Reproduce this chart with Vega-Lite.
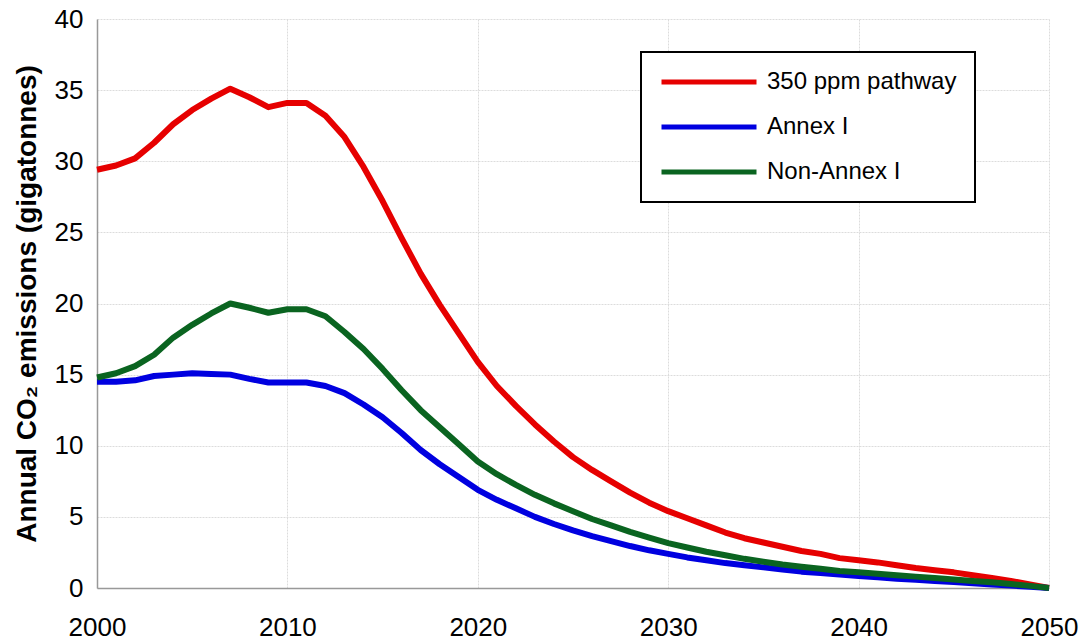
{
  "$schema": "https://vega.github.io/schema/vega-lite/v6.json",
  "autosize": "none",
  "width": 952,
  "height": 569,
  "padding": {"left": 97, "top": 19, "right": 32, "bottom": 55},
  "background": "white",
  "config": {
    "font": "Liberation Sans",
    "view": {"stroke": null},
    "legend": {"strokeWidth": 2}
  },
  "data": {
    "values": [
      {"year":2000,"series":"350 ppm pathway","value":29.4},
      {"year":2001,"series":"350 ppm pathway","value":29.7},
      {"year":2002,"series":"350 ppm pathway","value":30.2},
      {"year":2003,"series":"350 ppm pathway","value":31.3},
      {"year":2004,"series":"350 ppm pathway","value":32.6},
      {"year":2005,"series":"350 ppm pathway","value":33.6},
      {"year":2006,"series":"350 ppm pathway","value":34.4},
      {"year":2007,"series":"350 ppm pathway","value":35.1},
      {"year":2008,"series":"350 ppm pathway","value":34.5},
      {"year":2009,"series":"350 ppm pathway","value":33.8},
      {"year":2010,"series":"350 ppm pathway","value":34.1},
      {"year":2011,"series":"350 ppm pathway","value":34.1},
      {"year":2012,"series":"350 ppm pathway","value":33.2},
      {"year":2013,"series":"350 ppm pathway","value":31.7},
      {"year":2014,"series":"350 ppm pathway","value":29.6},
      {"year":2015,"series":"350 ppm pathway","value":27.2},
      {"year":2016,"series":"350 ppm pathway","value":24.6},
      {"year":2017,"series":"350 ppm pathway","value":22.1},
      {"year":2018,"series":"350 ppm pathway","value":19.9},
      {"year":2019,"series":"350 ppm pathway","value":17.9},
      {"year":2020,"series":"350 ppm pathway","value":15.9},
      {"year":2021,"series":"350 ppm pathway","value":14.2},
      {"year":2022,"series":"350 ppm pathway","value":12.8},
      {"year":2023,"series":"350 ppm pathway","value":11.5},
      {"year":2024,"series":"350 ppm pathway","value":10.3},
      {"year":2025,"series":"350 ppm pathway","value":9.2},
      {"year":2026,"series":"350 ppm pathway","value":8.3},
      {"year":2027,"series":"350 ppm pathway","value":7.5},
      {"year":2028,"series":"350 ppm pathway","value":6.7},
      {"year":2029,"series":"350 ppm pathway","value":6.0},
      {"year":2030,"series":"350 ppm pathway","value":5.4},
      {"year":2031,"series":"350 ppm pathway","value":4.9},
      {"year":2032,"series":"350 ppm pathway","value":4.4},
      {"year":2033,"series":"350 ppm pathway","value":3.9},
      {"year":2034,"series":"350 ppm pathway","value":3.5},
      {"year":2035,"series":"350 ppm pathway","value":3.2},
      {"year":2036,"series":"350 ppm pathway","value":2.9},
      {"year":2037,"series":"350 ppm pathway","value":2.6},
      {"year":2038,"series":"350 ppm pathway","value":2.4},
      {"year":2039,"series":"350 ppm pathway","value":2.1},
      {"year":2040,"series":"350 ppm pathway","value":1.95},
      {"year":2041,"series":"350 ppm pathway","value":1.8},
      {"year":2042,"series":"350 ppm pathway","value":1.6},
      {"year":2043,"series":"350 ppm pathway","value":1.4},
      {"year":2044,"series":"350 ppm pathway","value":1.25},
      {"year":2045,"series":"350 ppm pathway","value":1.1},
      {"year":2046,"series":"350 ppm pathway","value":0.9},
      {"year":2047,"series":"350 ppm pathway","value":0.7},
      {"year":2048,"series":"350 ppm pathway","value":0.5},
      {"year":2049,"series":"350 ppm pathway","value":0.25},
      {"year":2050,"series":"350 ppm pathway","value":0.0},
      {"year":2000,"series":"Annex I","value":14.5},
      {"year":2001,"series":"Annex I","value":14.5},
      {"year":2002,"series":"Annex I","value":14.6},
      {"year":2003,"series":"Annex I","value":14.9},
      {"year":2004,"series":"Annex I","value":15.0},
      {"year":2005,"series":"Annex I","value":15.1},
      {"year":2006,"series":"Annex I","value":15.05},
      {"year":2007,"series":"Annex I","value":15.0},
      {"year":2008,"series":"Annex I","value":14.7},
      {"year":2009,"series":"Annex I","value":14.45},
      {"year":2010,"series":"Annex I","value":14.45},
      {"year":2011,"series":"Annex I","value":14.45},
      {"year":2012,"series":"Annex I","value":14.2},
      {"year":2013,"series":"Annex I","value":13.7},
      {"year":2014,"series":"Annex I","value":12.9},
      {"year":2015,"series":"Annex I","value":12.0},
      {"year":2016,"series":"Annex I","value":10.9},
      {"year":2017,"series":"Annex I","value":9.7},
      {"year":2018,"series":"Annex I","value":8.7},
      {"year":2019,"series":"Annex I","value":7.8},
      {"year":2020,"series":"Annex I","value":6.9},
      {"year":2021,"series":"Annex I","value":6.2},
      {"year":2022,"series":"Annex I","value":5.6},
      {"year":2023,"series":"Annex I","value":5.0},
      {"year":2024,"series":"Annex I","value":4.5},
      {"year":2025,"series":"Annex I","value":4.05},
      {"year":2026,"series":"Annex I","value":3.65},
      {"year":2027,"series":"Annex I","value":3.3},
      {"year":2028,"series":"Annex I","value":2.95},
      {"year":2029,"series":"Annex I","value":2.65},
      {"year":2030,"series":"Annex I","value":2.4},
      {"year":2031,"series":"Annex I","value":2.15},
      {"year":2032,"series":"Annex I","value":1.95},
      {"year":2033,"series":"Annex I","value":1.75},
      {"year":2034,"series":"Annex I","value":1.6},
      {"year":2035,"series":"Annex I","value":1.45},
      {"year":2036,"series":"Annex I","value":1.3},
      {"year":2037,"series":"Annex I","value":1.15},
      {"year":2038,"series":"Annex I","value":1.05},
      {"year":2039,"series":"Annex I","value":0.95},
      {"year":2040,"series":"Annex I","value":0.85},
      {"year":2041,"series":"Annex I","value":0.75},
      {"year":2042,"series":"Annex I","value":0.65},
      {"year":2043,"series":"Annex I","value":0.58},
      {"year":2044,"series":"Annex I","value":0.5},
      {"year":2045,"series":"Annex I","value":0.42},
      {"year":2046,"series":"Annex I","value":0.34},
      {"year":2047,"series":"Annex I","value":0.25},
      {"year":2048,"series":"Annex I","value":0.17},
      {"year":2049,"series":"Annex I","value":0.08},
      {"year":2050,"series":"Annex I","value":0.0},
      {"year":2000,"series":"Non-Annex I","value":14.8},
      {"year":2001,"series":"Non-Annex I","value":15.1},
      {"year":2002,"series":"Non-Annex I","value":15.6},
      {"year":2003,"series":"Non-Annex I","value":16.4},
      {"year":2004,"series":"Non-Annex I","value":17.6},
      {"year":2005,"series":"Non-Annex I","value":18.5},
      {"year":2006,"series":"Non-Annex I","value":19.3},
      {"year":2007,"series":"Non-Annex I","value":20.0},
      {"year":2008,"series":"Non-Annex I","value":19.7},
      {"year":2009,"series":"Non-Annex I","value":19.35},
      {"year":2010,"series":"Non-Annex I","value":19.6},
      {"year":2011,"series":"Non-Annex I","value":19.6},
      {"year":2012,"series":"Non-Annex I","value":19.1},
      {"year":2013,"series":"Non-Annex I","value":18.0},
      {"year":2014,"series":"Non-Annex I","value":16.8},
      {"year":2015,"series":"Non-Annex I","value":15.4},
      {"year":2016,"series":"Non-Annex I","value":13.9},
      {"year":2017,"series":"Non-Annex I","value":12.5},
      {"year":2018,"series":"Non-Annex I","value":11.3},
      {"year":2019,"series":"Non-Annex I","value":10.1},
      {"year":2020,"series":"Non-Annex I","value":8.9},
      {"year":2021,"series":"Non-Annex I","value":8.0},
      {"year":2022,"series":"Non-Annex I","value":7.25},
      {"year":2023,"series":"Non-Annex I","value":6.55},
      {"year":2024,"series":"Non-Annex I","value":5.95},
      {"year":2025,"series":"Non-Annex I","value":5.4},
      {"year":2026,"series":"Non-Annex I","value":4.85},
      {"year":2027,"series":"Non-Annex I","value":4.4},
      {"year":2028,"series":"Non-Annex I","value":3.95},
      {"year":2029,"series":"Non-Annex I","value":3.55},
      {"year":2030,"series":"Non-Annex I","value":3.15},
      {"year":2031,"series":"Non-Annex I","value":2.85},
      {"year":2032,"series":"Non-Annex I","value":2.55},
      {"year":2033,"series":"Non-Annex I","value":2.3},
      {"year":2034,"series":"Non-Annex I","value":2.05},
      {"year":2035,"series":"Non-Annex I","value":1.85},
      {"year":2036,"series":"Non-Annex I","value":1.65},
      {"year":2037,"series":"Non-Annex I","value":1.5},
      {"year":2038,"series":"Non-Annex I","value":1.35},
      {"year":2039,"series":"Non-Annex I","value":1.2},
      {"year":2040,"series":"Non-Annex I","value":1.1},
      {"year":2041,"series":"Non-Annex I","value":1.0},
      {"year":2042,"series":"Non-Annex I","value":0.9},
      {"year":2043,"series":"Non-Annex I","value":0.8},
      {"year":2044,"series":"Non-Annex I","value":0.7},
      {"year":2045,"series":"Non-Annex I","value":0.6},
      {"year":2046,"series":"Non-Annex I","value":0.5},
      {"year":2047,"series":"Non-Annex I","value":0.4},
      {"year":2048,"series":"Non-Annex I","value":0.28},
      {"year":2049,"series":"Non-Annex I","value":0.15},
      {"year":2050,"series":"Non-Annex I","value":0.0}
    ]
  },
  "mark": {"type": "line", "strokeWidth": 6, "interpolate": "linear", "strokeCap": "butt", "strokeJoin": "round"},
  "encoding": {
    "x": {
      "field": "year", "type": "quantitative",
      "scale": {"domain": [2000, 2050], "nice": false, "zero": false},
      "axis": {
        "title": null, "values": [2000, 2010, 2020, 2030, 2040, 2050],
        "format": "d", "labelFontSize": 26, "labelColor": "black", "labelPadding": 26,
        "ticks": false, "domainColor": "#999999", "domainWidth": 1.5,
        "gridColor": "#dcdcdc", "gridDash": [2, 1], "labelFlush": false
      }
    },
    "y": {
      "field": "value", "type": "quantitative",
      "scale": {"domain": [0, 40], "nice": false},
      "axis": {
        "title": "Annual CO₂ emissions (gigatonnes)",
        "titleFontSize": 28, "titleFontWeight": "bold", "titleColor": "black", "titlePadding": 13,
        "values": [0, 5, 10, 15, 20, 25, 30, 35, 40],
        "labelFontSize": 26, "labelColor": "black", "labelPadding": 14,
        "ticks": false, "domainColor": "#999999", "domainWidth": 1.5,
        "gridColor": "#dcdcdc", "gridDash": [2, 1]
      }
    },
    "color": {
      "field": "series", "type": "nominal",
      "scale": {"domain": ["350 ppm pathway", "Annex I", "Non-Annex I"], "range": ["#e60000", "#0000e0", "#0a6420"]},
      "legend": {
        "title": null, "orient": "none", "legendX": 544, "legendY": 33,
        "symbolType": "M-1,0H9", "symbolSize": 361, "symbolStrokeWidth": 5,
        "labelOffset": 84, "labelFontSize": 24, "labelColor": "black", "labelLimit": 400,
        "rowPadding": 21, "padding": 18, "strokeColor": "black", "fillColor": "white"
      }
    }
  }
}
